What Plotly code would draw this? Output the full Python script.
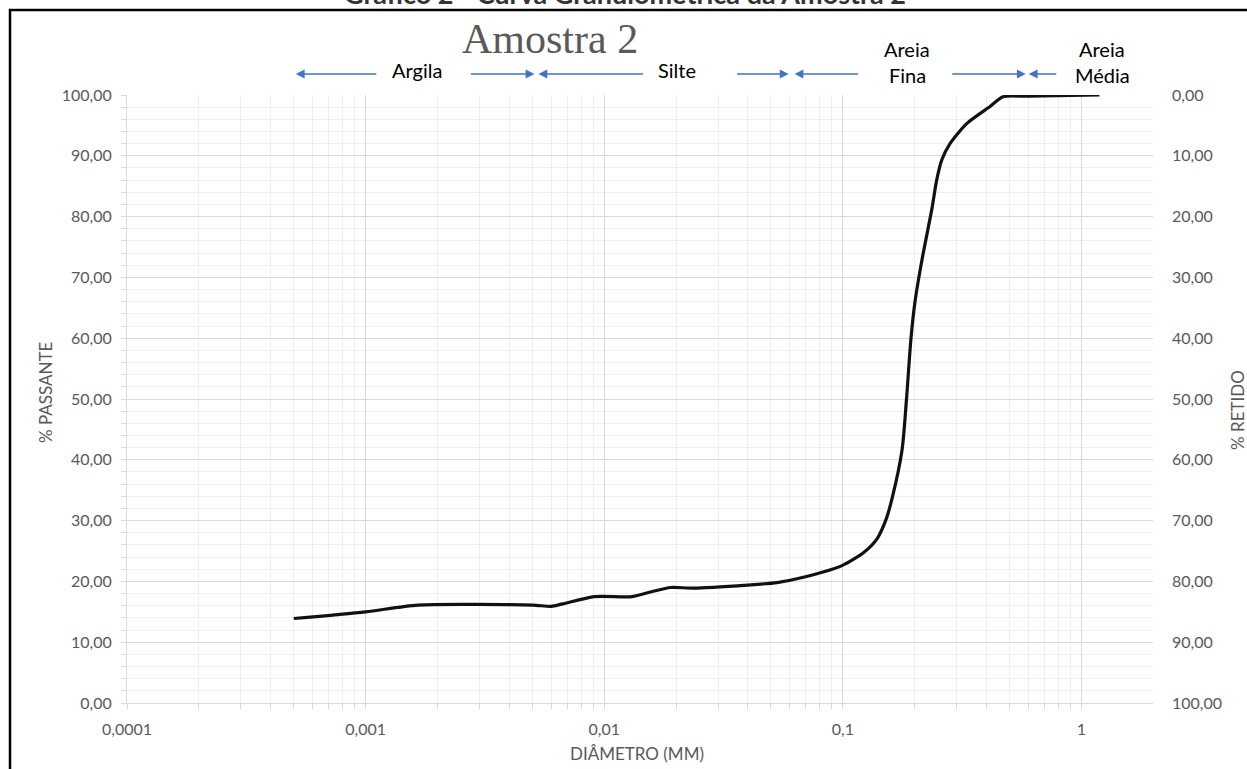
import math
import plotly.graph_objects as go

# ---------------- data ----------------
diametro_mm = [0.0005, 0.001, 0.00166, 0.0050, 0.0060, 0.0067, 0.0091, 0.0131, 0.0158,
               0.0190, 0.0236, 0.0398, 0.053, 0.067, 0.0992, 0.1227, 0.1391, 0.1518,
               0.1608, 0.1771, 0.1849, 0.1931, 0.2007, 0.2147, 0.2358, 0.2474, 0.2598,
               0.2813, 0.3306, 0.4139, 0.4691, 0.60, 1.19]
passante = [13.9, 15.0, 16.1, 16.1, 15.9, 16.3, 17.5, 17.5, 18.3,
            19.0, 18.9, 19.4, 19.8, 20.6, 22.6, 24.8, 27.0, 30.2,
            33.6, 41.6, 50.0, 60.0, 66.0, 72.9, 81.1, 86.0, 89.3,
            92.0, 95.3, 98.1, 99.7, 99.8, 100.0]
retido = [100 - p for p in passante]

y_major = list(range(0, 101, 10))
y_text = [f"{v},00" for v in y_major]
y_minor = [v for v in range(0, 101, 2) if v % 10]

x_tickvals = [0.0001, 0.001, 0.01, 0.1, 1]
x_ticktext = ["0,0001", "0,001", "0,01", "0,1", "1"]
x_minor = [m * 10 ** k for k in range(-4, 1) for m in range(2, 10)]

classes = ["Argila", "Silte", "Areia Fina", "Areia Média"]
class_limits_mm = [0.00051, 0.0052, 0.061, 0.59, 2.62]

# ---------------- layout geometry ----------------
W, H = 1247, 769
L, R, T, B = 127, 1153, 95, 703


def px(p):
    return (p - L) / (R - L)


def py(p):
    return (B - p) / (B - T)


GREY = "#595959"
FONT = "Lato"
BLUE = "#4472C4"

fig = go.Figure()
fig.add_trace(go.Scatter(x=diametro_mm, y=passante, mode="lines",
                         line=dict(color="#111111", width=3.2, shape="spline", smoothing=0.7),
                         showlegend=False, hoverinfo="x+y"))
fig.add_trace(go.Scatter(x=diametro_mm, y=retido, mode="lines", yaxis="y2",
                         line=dict(color="rgba(0,0,0,0)", width=0),
                         showlegend=False, hoverinfo="skip"))

axis_common = dict(
    tickfont=dict(family=FONT, size=16, color=GREY),
    linecolor="#d9d9d9", showline=True, zeroline=False,
    gridcolor="#d9d9d9", gridwidth=1,
)

fig.update_layout(
    width=W, height=H,
    margin=dict(l=L, r=W - R, t=T, b=H - B),
    paper_bgcolor="white", plot_bgcolor="white",
    xaxis=dict(type="log", range=[-4, 0.30], tickmode="array",
               tickvals=x_tickvals, ticktext=x_ticktext,
               ticks="outside", ticklen=5, tickcolor="#d9d9d9",
               ticklabelstandoff=7,
               minor=dict(tickmode="array", tickvals=x_minor, showgrid=True,
                          gridcolor="#efefef", ticks="outside", ticklen=5,
                          tickcolor="#d9d9d9"),
               **axis_common),
    yaxis=dict(range=[0, 100], tickmode="array", tickvals=y_major, ticktext=y_text,
               ticks="outside", ticklen=5, tickcolor="#d9d9d9",
               ticklabelstandoff=6,
               minor=dict(tickmode="array", tickvals=y_minor, showgrid=True,
                          gridcolor="#efefef", ticks="outside", ticklen=5,
                          tickcolor="#d9d9d9"),
               **axis_common),
    yaxis2=dict(overlaying="y", side="right", range=[100, 0], tickmode="array",
                tickvals=y_major, ticktext=y_text, showgrid=False, showline=False,
                zeroline=False, ticks="", ticklabelstandoff=18,
                tickfont=dict(family=FONT, size=16, color=GREY)),
)


def label(text, x, y, **kw):
    d = dict(text=text, xref="paper", yref="paper", x=px(x), y=py(y),
             xanchor="center", yanchor="middle", showarrow=False)
    d.update(kw)
    return d


ann = []
title_font = dict(family=FONT, size=17, color=GREY)
ann.append(label("DIÂMETRO (MM)", 637, 753, font=title_font))
ann.append(label("% PASSANTE", 45, 392, textangle=-90, font=title_font))
ann.append(label("% RETIDO", 1237, 410, textangle=-90, font=title_font))
ann.append(label("Amostra 2", 550, 39, font=dict(family="Liberation Serif", size=42, color=GREY)))
# caption above the frame (clipped at the page top as in the source)
ann.append(label("<b>Gráfico 2 - Curva Granulométrica da Amostra 2</b>", 625, 12,
                 yanchor="bottom", font=dict(family=FONT, size=27, color="#333333")))

lab_font = dict(family=FONT, size=20, color="black")
ann.append(label(classes[0], 417, 70, font=lab_font))
ann.append(label(classes[1], 677, 70, font=lab_font))
for name, cx in ((classes[2], 907), (classes[3], 1102)):
    first, second = name.split(" ")
    ann.append(label(first, cx, 49, font=lab_font))
    ann.append(label(second, cx, 75, font=lab_font))

# class arrows: (limit index, pixel shift of head, tail offset px)
arrow_specs = [(0, 0, 82), (1, -2, -65), (1, 2, 106), (2, -3, -53),
               (2, 3, 65), (3, -1, -75), (3, 2, 29), (4, 0, -33)]
for idx, shift, tail in arrow_specs:
    ann.append(dict(text="", x=math.log10(class_limits_mm[idx]), xref="x",
                    y=py(74), yref="paper", xshift=shift,
                    showarrow=True, axref="pixel", ayref="pixel", ax=tail, ay=0,
                    arrowhead=2, arrowsize=1.1, arrowwidth=1.6, arrowcolor=BLUE,
                    standoff=0))

fig.update_layout(annotations=ann)

# outer frame
fig.add_shape(type="rect", xref="paper", yref="paper",
              x0=px(10), x1=px(1262), y0=py(10), y1=py(790),
              line=dict(color="black", width=2.5), fillcolor="rgba(0,0,0,0)", layer="above")

fig.write_html("out.html")
